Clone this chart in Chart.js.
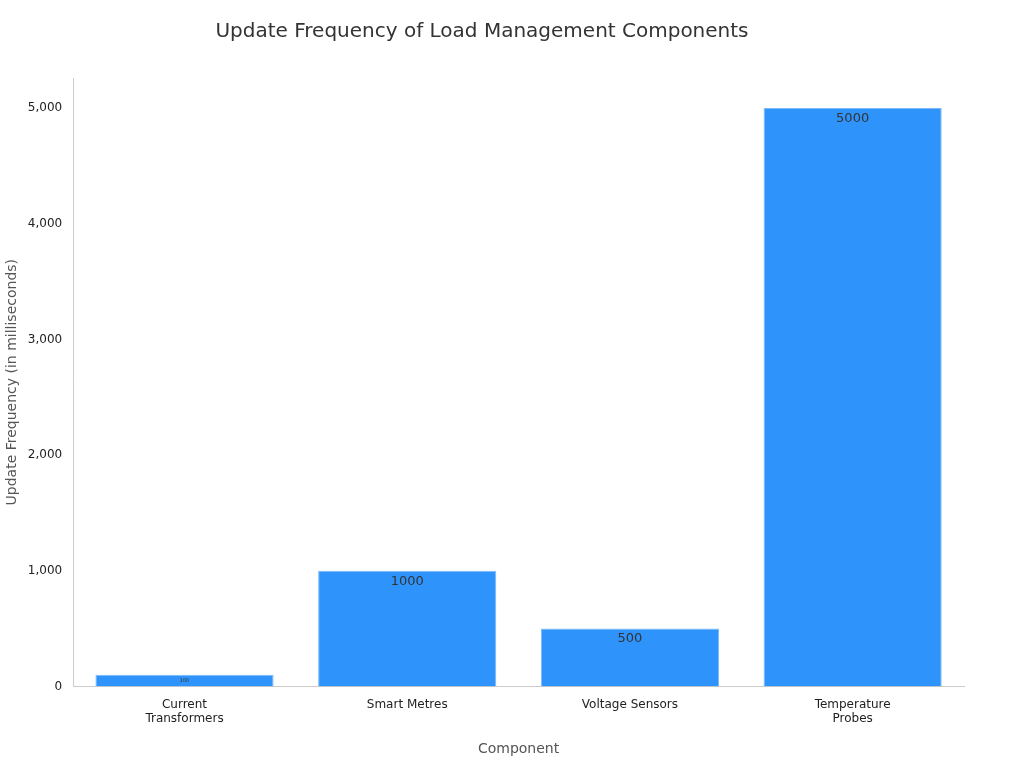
<!DOCTYPE html>
<html><head><meta charset="utf-8">
<script src="https://cdn.jsdelivr.net/npm/chart.js@4"></script>
<style>html,body{margin:0;background:#fff}#w{width:1024px;height:768px}</style>
</head><body><div id="w"><canvas id="c"></canvas></div>
<script>
const categories=[["Current","Transformers"],"Smart Metres","Voltage Sensors",["Temperature","Probes"]];
const values=[100,1000,500,5000];
const labelSizes=[5,13,13,13];
Chart.defaults.font.family="DejaVu Sans";
const barLabels={id:'bl',afterDatasetsDraw(ch){const ctx=ch.ctx;ch.getDatasetMeta(0).data.forEach((b,i)=>{ctx.save();ctx.fillStyle='#333';ctx.font=labelSizes[i]+'px DejaVu Sans';ctx.textAlign='center';ctx.textBaseline='top';ctx.fillText(String(values[i]),b.x,b.y+(i==0?3:4));ctx.restore();});}};
new Chart(document.getElementById('c'),{type:'bar',
data:{labels:categories,datasets:[{data:values,backgroundColor:'#2e93fa',borderColor:'#7bbcf8',borderWidth:1,categoryPercentage:1,barPercentage:0.8}]},
options:{responsive:true,maintainAspectRatio:false,animation:false,
layout:{padding:{top:10,right:60,left:0,bottom:6}},
plugins:{legend:{display:false},tooltip:{enabled:false},
title:{display:true,text:'Update Frequency of Load Management Components',color:'#333',font:{size:20,weight:'normal'},padding:{top:10,bottom:34}}},
scales:{
x:{grid:{display:false,drawTicks:true},border:{color:'#ccc'},ticks:{color:'#222',font:{size:12}},
title:{display:true,text:'Component',color:'#555',font:{size:14},padding:{top:12}}},
y:{min:0,max:5260,grid:{display:false},border:{color:'#ccc'},
afterBuildTicks(a){a.ticks=[0,1000,2000,3000,4000,5000].map(v=>({value:v}));},
ticks:{color:'#222',font:{size:12}},
title:{display:true,text:'Update Frequency (in milliseconds)',color:'#555',font:{size:14}}}}},
plugins:[barLabels]});
</script></body></html>
